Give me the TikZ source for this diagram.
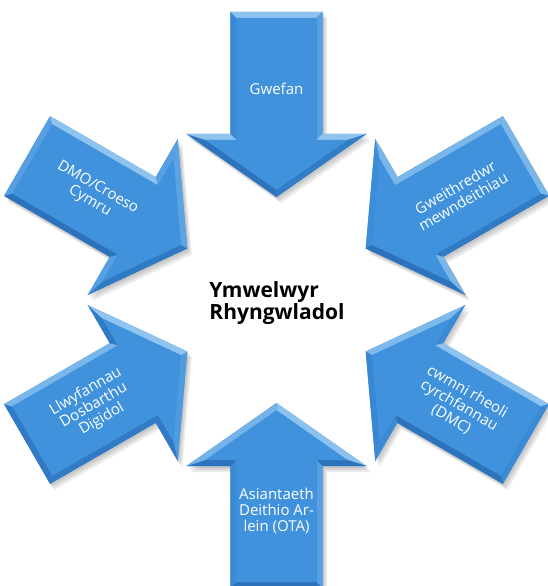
\documentclass[tikz,border=0pt]{standalone}
\usepackage{fontspec}
\newfontfamily\osans{Open Sans}
\definecolor{basec}{RGB}{64,146,221}
\definecolor{lightc}{RGB}{180,218,248}
\definecolor{darkc}{RGB}{30,92,165}
\tikzset{
  lbl/.style={font=\osans\fontsize{15}{16}\selectfont, text=white, align=center, inner sep=0pt},
  ctr/.style={font=\osans\bfseries\fontsize{21}{22.5}\selectfont, text=black, align=left, inner sep=0pt},
  shad/.style={fill=black, opacity=0.08},
}
\begin{document}
\begin{tikzpicture}[x=1pt,y=1pt]
\useasboundingbox (-276.5,-286) rectangle (270.5,300);
\fill[white] (-276.5,-286) rectangle (270.5,300);
% shadows
\foreach \ang in {90,30,-30,-90,-150,150} {
  \foreach \sx/\sy in {1.5/-2,3/-4,4.5/-6} {
    \begin{scope}[shift={(\sx,\sy)}, rotate=\ang]
      \fill[shad] (103,0) -- (166,90) -- (166,46) -- (288,46) -- (288,-46) -- (166,-46) -- (166,-90) -- cycle;
    \end{scope}
  }
}
% arrows with bevel
\foreach \ang in {90,30,-30,-90,-150,150} {
  \begin{scope}[rotate=\ang]
    \fill[basec] (103,0) -- (166,90) -- (166,46) -- (288,46) -- (288,-46) -- (166,-46) -- (166,-90) -- cycle;
    \foreach \ax/\ay/\bx/\by/\cx/\cy/\ex/\ey/\ph in {
      103/0/166/90/160/70.96/110.32/0/145,
      166/90/166/46/160/40/160/70.96/0,
      166/46/288/46/282/40/160/40/90,
      288/46/288/-46/282/-40/282/40/0,
      288/-46/166/-46/160/-40/282/-40/-90,
      166/-46/166/-90/160/-70.96/160/-40/0,
      166/-90/103/0/110.32/0/160/-70.96/-145} {
      \pgfmathsetmacro\bb{cos(\ph+\ang-75)}
      \pgfmathsetmacro\lpct{max(\bb,0)*70}
      \pgfmathsetmacro\dpct{max(-\bb,0)*60}
      \colorlet{bv}{lightc!\lpct!basec}
      \colorlet{bv}{darkc!\dpct!bv}
      \fill[bv] (\ax,\ay) -- (\bx,\by) -- (\cx,\cy) -- (\ex,\ey) -- cycle;
    }
    \fill[basec] (110.32,0) -- (160,70.96) -- (160,40) -- (282,40) -- (282,-40) -- (160,-40) -- (160,-70.96) -- cycle;
  \end{scope}
}
% labels
\node[lbl] (gwefan) at (90:211pt) {Gwefan};
\node[lbl, rotate=30] (gweith) at (30:211pt) {Gweithredwr\\mewndeithiau};
\node[lbl, rotate=-30] (cwmni) at (-30:211pt) {cwmni rheoli\\cyrchfannau\\(DMC)};
\node[lbl] (ota) at (-90:211pt) {Asiantaeth\\Deithio Ar-\\lein (OTA)};
\node[lbl, rotate=30] (llwyf) at (210:211pt) {Llwyfannau\\Dosbarthu\\Digidol};
\node[lbl, rotate=-30] (dmo) at (150:211pt) {DMO/Croeso\\Cymru};
\node[ctr] (centre) at (0.5,-3) {Ymwelwyr\\Rhyngwladol};
\end{tikzpicture}
\end{document}
